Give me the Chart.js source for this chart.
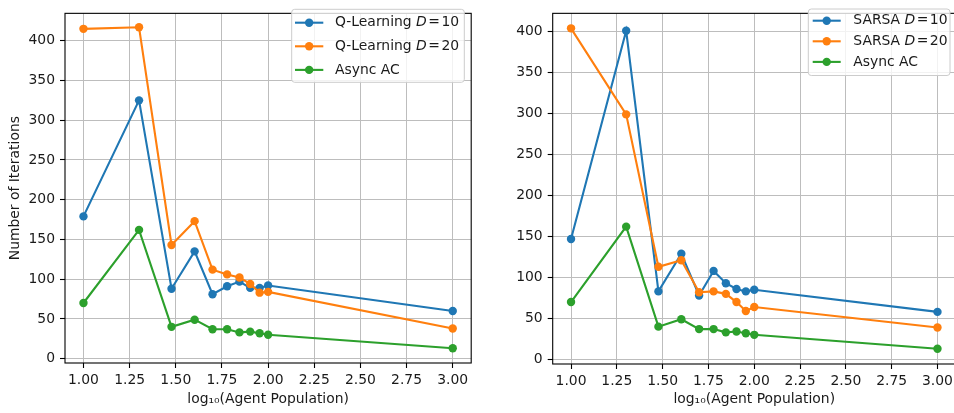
<!DOCTYPE html>
<html><head><meta charset="utf-8">
<script src="https://cdn.jsdelivr.net/npm/chart.js@4.4.0/dist/chart.umd.min.js"></script>
<style>
html,body{margin:0;padding:0;width:954px;height:413px;overflow:hidden;background:#fff;position:relative;}
#c1{position:absolute;left:0;top:0;}
#c2{position:absolute;left:480px;top:0;}
</style></head><body>
<canvas id="c1" width="480" height="413"></canvas>
<canvas id="c2" width="480" height="413"></canvas>
<script>
// ---- data ----
const logPopulation = [1.0, 1.301, 1.477, 1.602, 1.699, 1.778, 1.845, 1.903, 1.954, 2.0, 3.0];
const qLearningD10 = [179, 325, 88, 135, 81, 91, 97, 89, 89, 92, 60];
const qLearningD20 = [415, 417, 143, 173, 112, 106, 102, 94, 83, 84, 38];
const sarsaD10 = [147, 401, 83, 129, 78, 108, 93, 86, 83, 85, 58];
const sarsaD20 = [404, 299, 113, 121, 82, 83, 80, 70, 59, 64, 39];
const asyncAC = [70, 162, 40, 49, 37, 37, 33, 34, 32, 30, 13];
const xTicks = [1.0, 1.25, 1.5, 1.75, 2.0, 2.25, 2.5, 2.75, 3.0];
const yTicks = [0, 50, 100, 150, 200, 250, 300, 350, 400];
const leftLabels = ['Q-Learning D=10', 'Q-Learning D=20', 'Async AC'];
const rightLabels = ['SARSA D=10', 'SARSA D=20', 'Async AC'];
const xTitle = 'log\u2081\u2080(Agent Population)';
const yTitle = 'Number of Iterations';
// ---------------------------------------

const colors = ['#1f77b4', '#ff7f0e', '#2ca02c'];
const FONT = 'DejaVu Sans';
const FS = 13.9;
const TEXT = '#1a1a1a';

function ds(label, values, i) {
  return {
    label: label,
    data: logPopulation.map((x, k) => ({x: x, y: values[k]})),
    borderColor: colors[i],
    backgroundColor: colors[i],
    pointBackgroundColor: colors[i],
    pointBorderColor: colors[i],
    pointBorderWidth: 0,
    pointRadius: 4.2,
    pointHoverRadius: 4.2,
    borderWidth: 2.1,
    tension: 0,
    order: 3 - i
  };
}

const insidePlugin = {
  id: 'insidePlugin',
  afterDraw(chart, args, opts) {
    const ctx = chart.ctx, a = chart.chartArea;
    ctx.save();
    ctx.strokeStyle = '#000';
    ctx.lineWidth = 1.1;
    ctx.strokeRect(a.left, a.top, a.right - a.left, a.bottom - a.top);
    // legend
    const b = opts.box;
    ctx.beginPath();
    if (ctx.roundRect) ctx.roundRect(b.x, b.y, b.w, b.h, 3); else ctx.rect(b.x, b.y, b.w, b.h);
    ctx.fillStyle = 'rgba(255,255,255,0.8)';
    ctx.fill();
    ctx.strokeStyle = '#cccccc';
    ctx.lineWidth = 1;
    ctx.stroke();
    opts.labels.forEach((lab, i) => {
      const y = opts.row0 + i * opts.rowStep;
      ctx.strokeStyle = colors[i];
      ctx.lineWidth = 2.1;
      ctx.beginPath();
      ctx.moveTo(opts.h0, y); ctx.lineTo(opts.h1, y); ctx.stroke();
      ctx.fillStyle = colors[i];
      ctx.beginPath();
      ctx.arc((opts.h0 + opts.h1) / 2, y, 4.2, 0, Math.PI * 2);
      ctx.fill();
      ctx.fillStyle = TEXT;
      ctx.textBaseline = 'middle';
      ctx.textAlign = 'left';
      let x = opts.tx;
      const m = lab.match(/^(.*) D=(\d+)$/);
      ctx.font = FS + 'px "' + FONT + '"';
      if (m) {
        const pre = m[1] + ' ';
        ctx.fillText(pre, x, y); x += ctx.measureText(pre).width;
        ctx.font = 'italic ' + FS + 'px "' + FONT + '"';
        ctx.fillText('D', x, y); x += ctx.measureText('D').width + 1.5;
        ctx.font = FS + 'px "' + FONT + '"';
        ctx.fillText('=', x, y); x += ctx.measureText('=').width + 1.5;
        ctx.fillText(m[2], x, y);
      } else {
        ctx.fillText(lab, x, y);
      }
    });
    ctx.restore();
  }
};

function makeChart(id, series, labels, cfg) {
  const el = document.getElementById(id);
  return new Chart(el, {
    type: 'line',
    data: {datasets: series.map((s, i) => ds(labels[i], s, i))},
    plugins: [insidePlugin],
    options: {
      responsive: false,
      animation: false,
      events: [],
      layout: {padding: {top: cfg.top, right: cfg.right, bottom: 0, left: 0}},
      plugins: {
        legend: {display: false},
        tooltip: {enabled: false},
        insidePlugin: cfg.legend
      },
      scales: {
        x: {
          type: 'linear',
          min: 0.9, max: 3.1,
          afterBuildTicks: s => { s.ticks = xTicks.map(v => ({value: v})); },
          afterFit: s => { s.height = cfg.xh; },
          ticks: {
            callback: v => Number(v).toFixed(2),
            color: TEXT, font: {family: FONT, size: FS}, padding: 4,
            maxRotation: 0, autoSkip: false
          },
          grid: {color: '#bdbdbd', lineWidth: 1, tickLength: 5, tickColor: '#000', tickWidth: 1.1},
          border: {display: false},
          title: {display: true, text: xTitle, color: TEXT, font: {family: FONT, size: FS}, padding: {top: 0, bottom: 5}}
        },
        y: {
          type: 'linear',
          min: cfg.ymin, max: cfg.ymax,
          afterBuildTicks: s => { s.ticks = yTicks.map(v => ({value: v})); },
          afterFit: s => { s.width = cfg.yw; },
          ticks: {
            callback: v => String(v),
            color: TEXT, font: {family: FONT, size: FS}, padding: 5, autoSkip: false
          },
          grid: {color: '#bdbdbd', lineWidth: 1, tickLength: 5, tickColor: '#000', tickWidth: 1.1},
          border: {display: false},
          title: {display: cfg.showYTitle, text: yTitle, color: TEXT, font: {family: FONT, size: FS}, padding: {top: 7, bottom: 0}}
        }
      }
    }
  });
}

makeChart('c1', [qLearningD10, qLearningD20, asyncAC], leftLabels, {
  top: 4, right: 8.8, xh: 50, yw: 65, ymin: -5.5, ymax: 434.5, showYTitle: true,
  legend: {labels: leftLabels, box: {x: 291.7, y: 9.3, w: 172.6, h: 73}, row0: 22.7, rowStep: 23.6, h0: 295, h1: 323.3, tx: 335}
});
makeChart('c2', [sarsaD10, sarsaD20, asyncAC], rightLabels, {
  top: 3.5, right: 1.2, xh: 49, yw: 72.7, ymin: -5.6, ymax: 422.3, showYTitle: false,
  legend: {labels: rightLabels, box: {x: 328.3, y: 9, w: 141.7, h: 66.5}, row0: 20.7, rowStep: 20.6, h0: 332.7, h1: 360.7, tx: 373.3}
});
</script>
</body></html>
